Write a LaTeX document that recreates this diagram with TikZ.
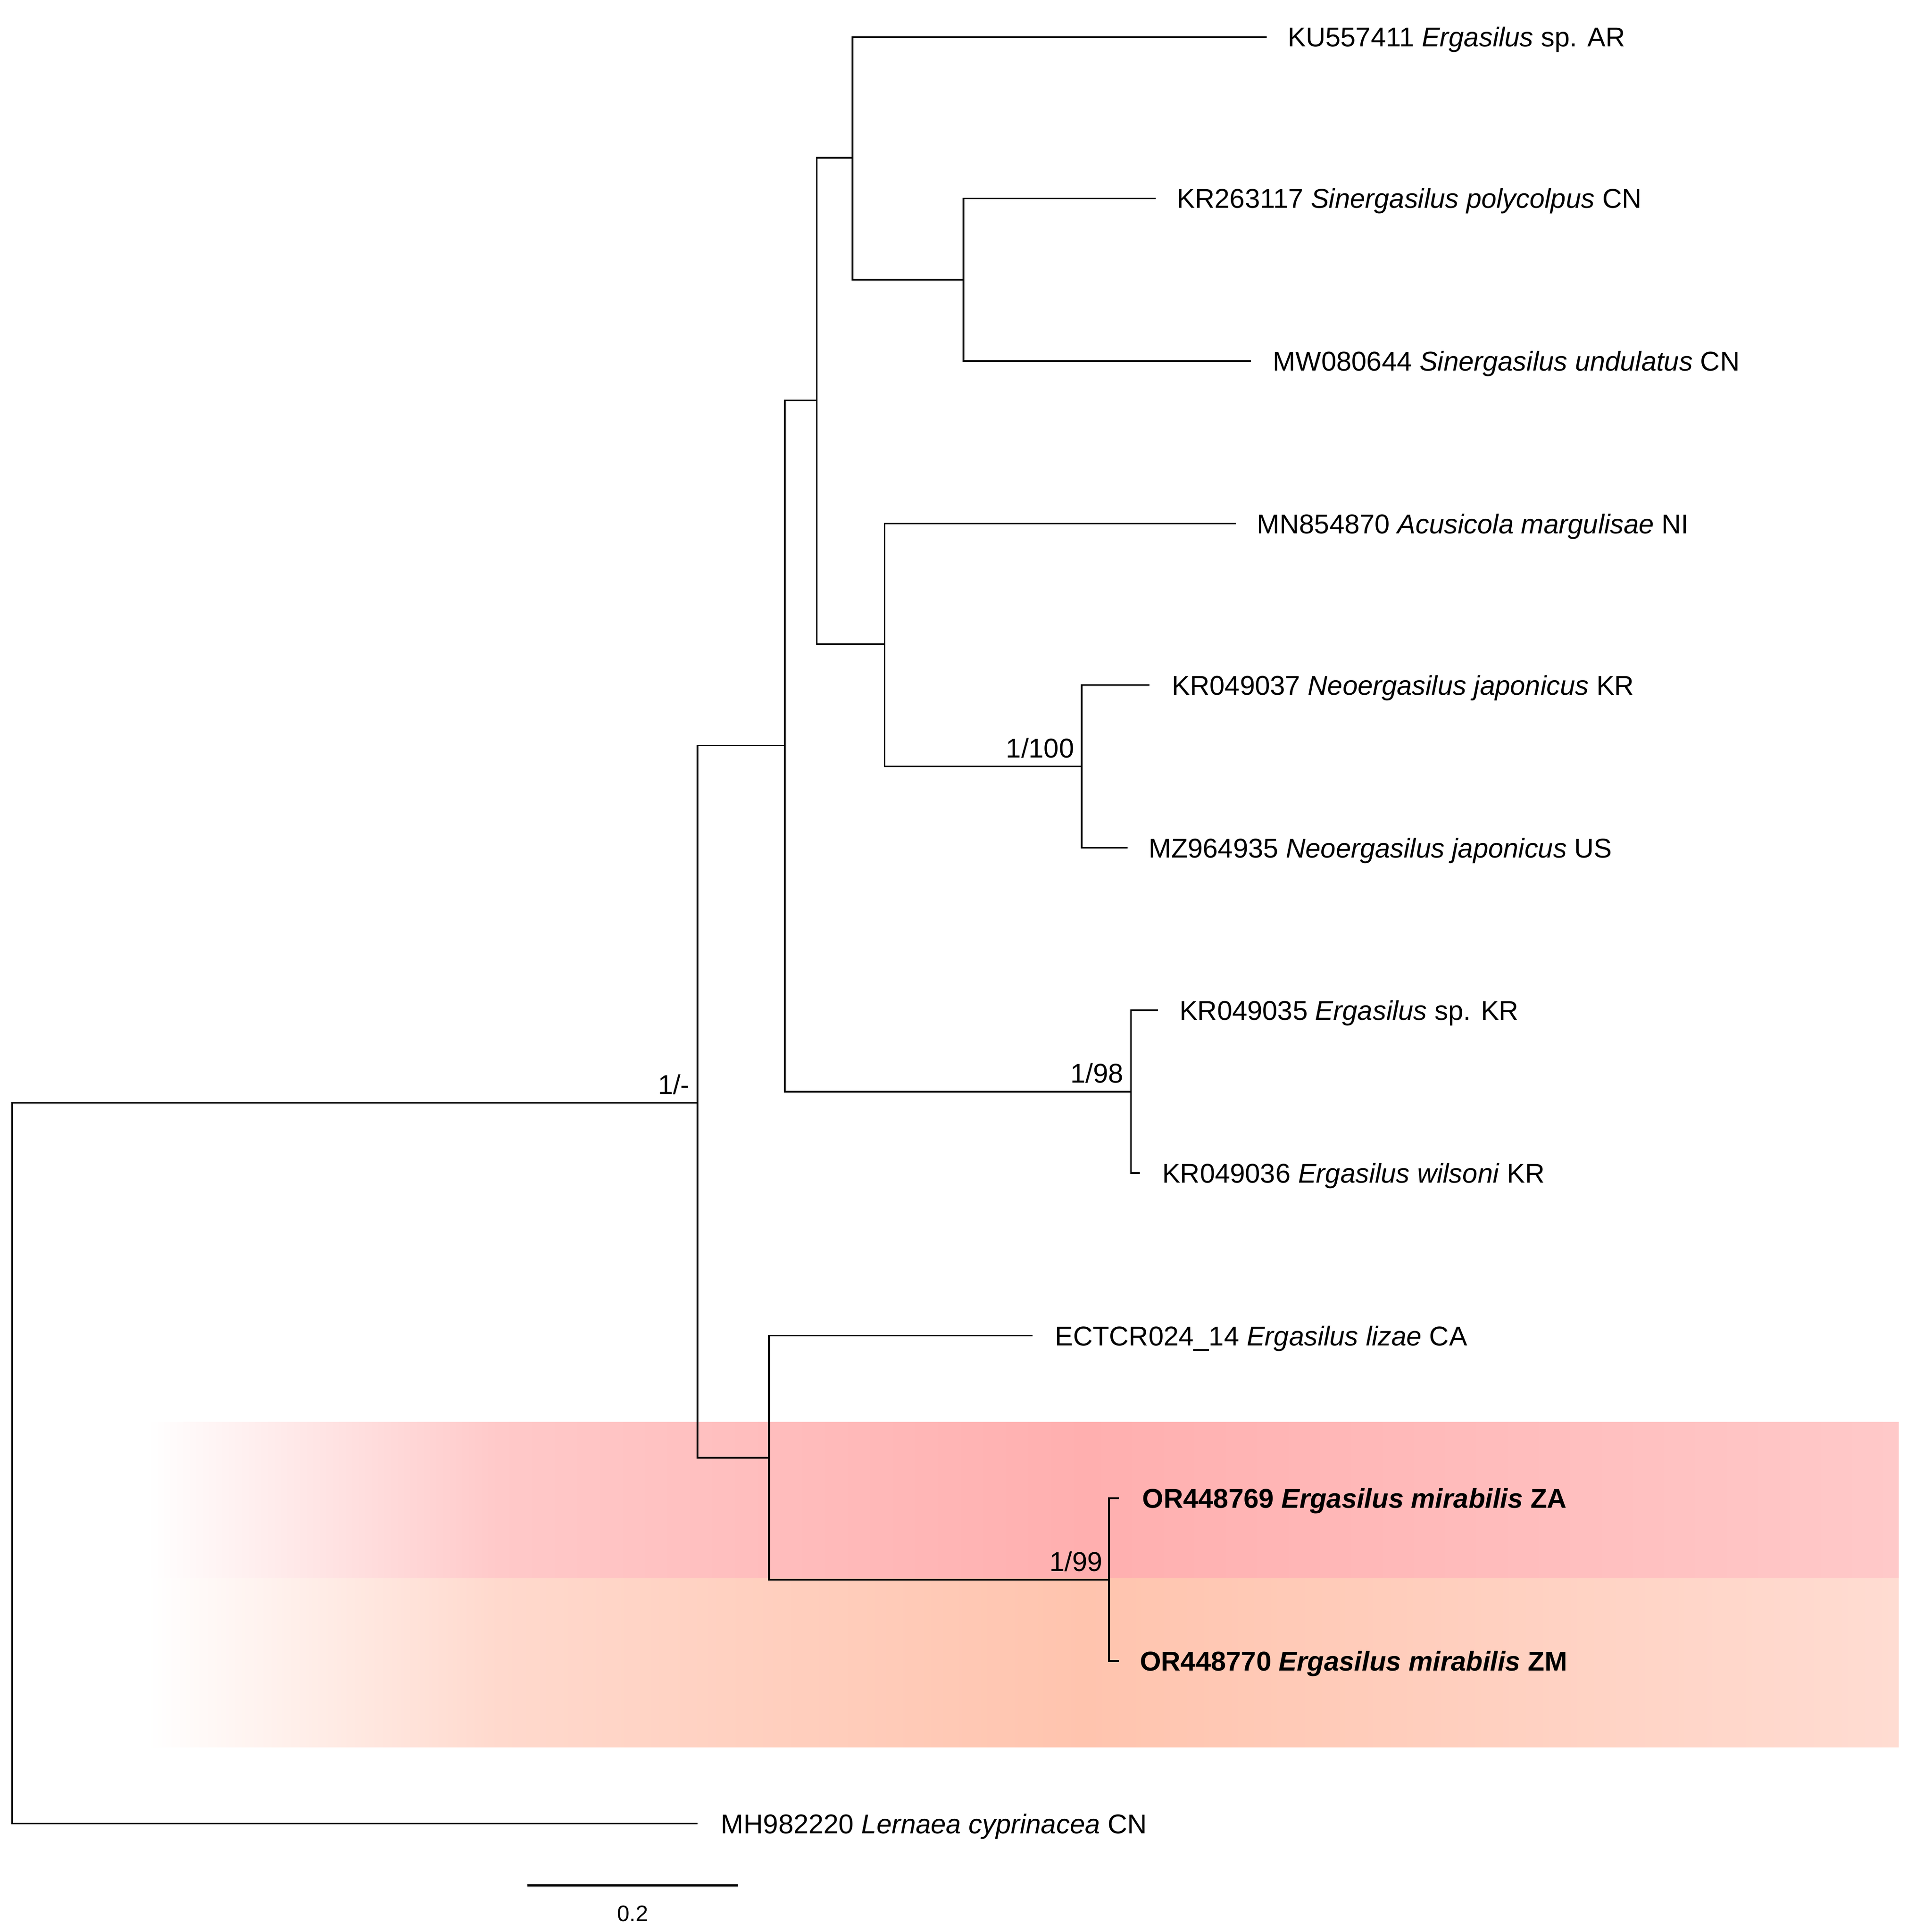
\documentclass[tikz,border=0pt]{standalone}
\usepackage{fontspec}
\setmainfont{Liberation Sans}
\usetikzlibrary{calc}
\definecolor{tbA}{HTML}{FFC9C9}
\definecolor{tbB}{HTML}{FFAFAF}
\definecolor{tbC}{HTML}{FFC9C9}
\definecolor{bbA}{HTML}{FFD9CD}
\definecolor{bbB}{HTML}{FFC4AE}
\definecolor{bbC}{HTML}{FFDCD2}
\pgfdeclarehorizontalshading{topband}{100bp}{color(0bp)=(white); color(25bp)=(white); color(35bp)=(tbA); color(51.75bp)=(tbB); color(75bp)=(tbC); color(100bp)=(tbC)}
\pgfdeclarehorizontalshading{botband}{100bp}{color(0bp)=(white); color(25bp)=(white); color(35bp)=(bbA); color(51.75bp)=(bbB); color(75bp)=(bbC); color(100bp)=(bbC)}
\begin{document}
\begin{tikzpicture}[x=0.0271cm,y=-0.0271cm,
  branch/.style={line width=1pt, line join=miter},
  scalebar/.style={line width=1.4pt},
  tiplab/.style={anchor=base west, inner sep=0pt, font=\fontsize{17}{20}\selectfont},
  supp/.style={anchor=base east, inner sep=0pt, font=\fontsize{17}{20}\selectfont},
  scalelab/.style={inner sep=0pt, font=\fontsize{14}{17}\selectfont}]
\useasboundingbox (0,0) rectangle (1555,1568);
% highlight bands
\shade[shading=topband] (120,1154) rectangle (1541,1281);
\shade[shading=botband] (120,1281) rectangle (1541,1418);
% internal nodes
\coordinate (R) at (10,895);
\coordinate (A) at (566,895);
\coordinate (B) at (637,605);
\coordinate (C) at (663,325);
\coordinate (D) at (692,128);
\coordinate (E) at (782,227);
\coordinate (F) at (718,523);
\coordinate (G) at (878,622);
\coordinate (H) at (918,886);
\coordinate (I) at (624,1183);
\coordinate (J) at (900,1282);
% tips
\coordinate (t1) at (1028,30);
\coordinate (t2) at (938,161);
\coordinate (t3) at (1015,293);
\coordinate (t4) at (1003,425);
\coordinate (t5) at (933,556);
\coordinate (t6) at (915,688);
\coordinate (t7) at (940,820);
\coordinate (t8) at (925,952);
\coordinate (t9) at (838,1084);
\coordinate (t10) at (908,1216);
\coordinate (t11) at (908,1348);
\coordinate (t12) at (566,1480);
% branches
\draw[branch] (A) -- (R) |- (t12);
\draw[branch] (A) |- (B);
\draw[branch] (A) |- (I);
\draw[branch] (B) |- (C);
\draw[branch] (B) |- (H);
\draw[branch] (C) |- (D);
\draw[branch] (C) |- (F);
\draw[branch] (D) |- (t1);
\draw[branch] (D) |- (E);
\draw[branch] (E) |- (t2);
\draw[branch] (E) |- (t3);
\draw[branch] (F) |- (t4);
\draw[branch] (F) |- (G);
\draw[branch] (G) |- (t5);
\draw[branch] (G) |- (t6);
\draw[branch] (H) |- (t7);
\draw[branch] (H) |- (t8);
\draw[branch] (I) |- (t9);
\draw[branch] (I) |- (J);
\draw[branch] (J) |- (t10);
\draw[branch] (J) |- (t11);
% tip labels
\node[tiplab] (l1) at ($(t1)+(17,8)$) {KU557411 \textit{Ergasilus} sp. AR};
\node[tiplab] (l2) at ($(t2)+(17,8)$) {KR263117 \textit{Sinergasilus polycolpus} CN};
\node[tiplab] (l3) at ($(t3)+(18,8)$) {MW080644 \textit{Sinergasilus undulatus} CN};
\node[tiplab] (l4) at ($(t4)+(17,8)$) {MN854870 \textit{Acusicola margulisae} NI};
\node[tiplab] (l5) at ($(t5)+(18,8)$) {KR049037 \textit{Neoergasilus japonicus} KR};
\node[tiplab] (l6) at ($(t6)+(17,8)$) {MZ964935 \textit{Neoergasilus japonicus} US};
\node[tiplab] (l7) at ($(t7)+(17,8)$) {KR049035 \textit{Ergasilus} sp. KR};
\node[tiplab] (l8) at ($(t8)+(18,8)$) {KR049036 \textit{Ergasilus wilsoni} KR};
\node[tiplab] (l9) at ($(t9)+(18,8)$) {ECTCR024\_14 \textit{Ergasilus lizae} CA};
\node[tiplab] (l10) at ($(t10)+(19,8)$) {\textbf{OR448769 \textit{Ergasilus mirabilis} ZA}};
\node[tiplab] (l11) at ($(t11)+(17,8)$) {\textbf{OR448770 \textit{Ergasilus mirabilis} ZM}};
\node[tiplab] (l12) at ($(t12)+(19,8)$) {MH982220 \textit{Lernaea cyprinacea} CN};
% support values
\node[supp] (sA) at ($(A)+(-6,-7)$) {1/-};
\node[supp] (sG) at ($(G)+(-6,-7)$) {1/100};
\node[supp] (sH) at ($(H)+(-6,-7)$) {1/98};
\node[supp] (sJ) at ($(J)+(-5,-7)$) {1/99};
% scale bar
\coordinate (s1) at (428,1530);
\coordinate (s2) at (599,1530);
\draw[scalebar] (s1) -- (s2);
\node[scalelab] (slab) at ($(s1)!0.5!(s2)+(0,23)$) {0.2};
\end{tikzpicture}
\end{document}
